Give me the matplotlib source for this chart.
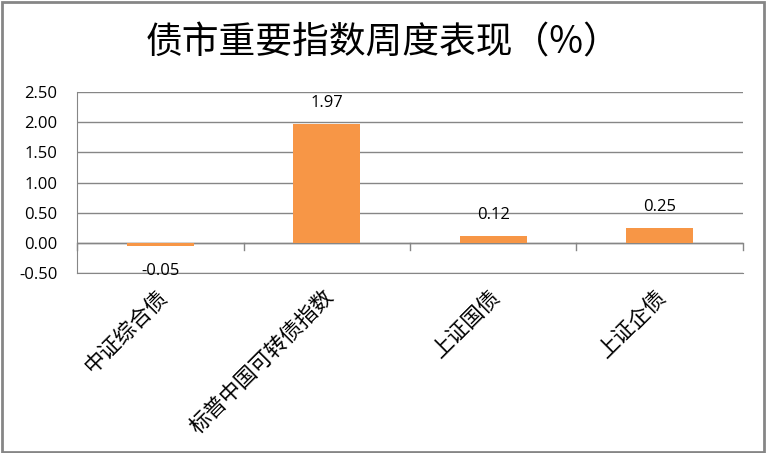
import matplotlib
matplotlib.use("Agg")
import matplotlib.pyplot as plt
from matplotlib.patches import Rectangle

categories = ["中证综合债", "标普中国可转债指数", "上证国债", "上证企债"]
values = [-0.05, 1.97, 0.12, 0.25]
yticks = [-0.50, 0.00, 0.50, 1.00, 1.50, 2.00, 2.50]
title = "债市重要指数周度表现（%）"

plt.rcParams['font.family'] = ['Noto Sans CJK SC', 'DejaVu Sans']

fig = plt.figure(figsize=(7.67, 4.53), dpi=100)
fig.patches.append(Rectangle((0.002, 0.003), 0.994, 0.993, transform=fig.transFigure,
                             fill=False, edgecolor='#868686', linewidth=2))
ax = fig.add_axes([0.1004, 0.397, 0.8683, 0.400])

x = list(range(len(categories)))
bars = ax.bar(x, values, width=0.4, color='#F79646', zorder=3)
ax.set_xlim(-0.5, len(categories) - 0.5)
ax.set_ylim(-0.5, 2.5)
ax.set_yticks(yticks)
ax.set_yticklabels([f"{v:.2f}" for v in yticks], fontsize=12,
                   family=['Open Sans', 'DejaVu Sans'])
ax.tick_params(axis='y', length=0, pad=14)
ax.yaxis.grid(True, color='#868686', linewidth=1)
ax.set_axisbelow(True)
for s in ['top', 'right']:
    ax.spines[s].set_visible(False)
ax.spines['left'].set_color('#868686')
ax.spines['bottom'].set_color('#868686')
ax.axhline(0, color='#868686', linewidth=1, zorder=2)

ax.set_xticks([])
for i in range(len(categories) + 1):
    ax.plot([i - 0.5, i - 0.5], [0, -0.11], color='#868686', linewidth=1,
            clip_on=False, zorder=2)

for i, c in enumerate(categories):
    ax.annotate(c, xy=(i, -0.5), xycoords='data', xytext=(-3, -9),
                textcoords='offset points', rotation=45, ha='right', va='top',
                rotation_mode='anchor', fontsize=15.5, color='black')

for i, v in enumerate(values):
    off = 9 if v >= 0 else -12
    ax.annotate(f"{v:.2f}", xy=(i, v), xytext=(0, off), textcoords='offset points',
                ha='center', va='bottom' if v >= 0 else 'top', fontsize=12,
                family=['Open Sans', 'DejaVu Sans'])

fig.text(0.5, 0.905, title, ha='center', va='center', fontsize=26.5, color='black')

fig.savefig("out.png", dpi=100)
